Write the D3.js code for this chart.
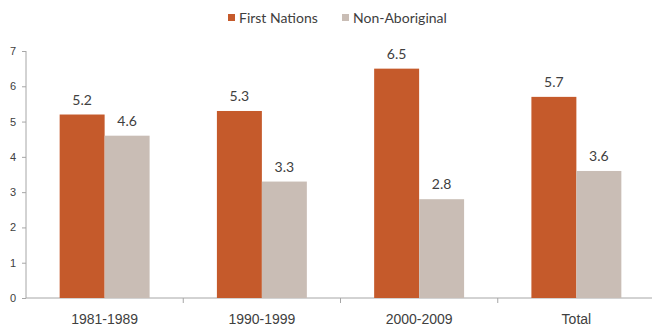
<!DOCTYPE html>
<html>
<head>
<meta charset="utf-8">
<script src="https://cdn.jsdelivr.net/npm/d3@7"></script>
<style>
  body{margin:0;background:#fff;}
  svg{display:block;font-family:Lato,"Open Sans",sans-serif;}
</style>
</head>
<body>
<svg id="chart" width="652" height="327"></svg>
<script>
const categories = ["1981-1989","1990-1999","2000-2009","Total"];
const firstNations = [5.2, 5.3, 6.5, 5.7];
const nonAboriginal = [4.6, 3.3, 2.8, 3.6];
const seriesNames = ["First Nations","Non-Aboriginal"];
const yTicks = [0,1,2,3,4,5,6,7];

const colors = ["#c55a2b","#c9bdb5"];
const svg = d3.select("#chart");
const W = 652, H = 327;
const m = {left:26, right:-3, top:51, bottom:29};

const x = d3.scaleBand().domain(categories).range([m.left, W-m.right]).paddingInner(0.428).paddingOuter(0.214);
const xs = d3.scaleBand().domain(seriesNames).range([0, x.bandwidth()]);
const y = d3.scaleLinear().domain([0,7]).range([H-m.bottom, m.top]);

// y axis
const ya = svg.append("g").attr("transform",`translate(${m.left},0)`)
  .call(d3.axisLeft(y).tickValues(yTicks).tickSize(4).tickPadding(6).tickFormat(d3.format("d")));
ya.selectAll("line,path").attr("stroke","#a6a6a6");
ya.select("path").attr("d",`M0,${y(7)}V${y(0)}`);
ya.selectAll("text").attr("fill","#404040").style("font-size","11px");

// x axis
const xa = svg.append("g").attr("transform",`translate(0,${y(0)})`)
  .call(d3.axisBottom(x).tickSize(0).tickPadding(16));
xa.select("path").attr("stroke","#a6a6a6").attr("d",`M${m.left},0H${W}`);
xa.selectAll("text").attr("fill","#404040").style("font-size","14px");
// boundary ticks between categories
const step = x.step();
svg.append("g").selectAll("line").data(categories.slice(1)).join("line")
  .attr("x1",d=>x(d)-step*0.214).attr("x2",d=>x(d)-step*0.214)
  .attr("y1",y(0)).attr("y2",y(0)+5).attr("stroke","#a6a6a6");

// bars
const rows = categories.map((c,i)=>({cat:c, vals:[firstNations[i], nonAboriginal[i]]}));
const grp = svg.append("g").selectAll("g").data(rows).join("g")
  .attr("transform",d=>`translate(${x(d.cat)},0)`);
grp.selectAll("rect").data(d=>d.vals.map((v,k)=>({k,v}))).join("rect")
  .attr("x",d=>xs(seriesNames[d.k])).attr("width",xs.bandwidth())
  .attr("y",d=>y(d.v)).attr("height",d=>y(0)-y(d.v))
  .attr("fill",d=>colors[d.k]);
grp.selectAll("text").data(d=>d.vals.map((v,k)=>({k,v}))).join("text")
  .attr("x",d=>xs(seriesNames[d.k])+xs.bandwidth()/2).attr("y",d=>y(d.v)-10)
  .attr("text-anchor","middle").attr("fill","#404040").style("font-size","14px")
  .text(d=>d3.format(".1f")(d.v));

// legend
const leg = svg.append("g");
const legX = [228, 342];
seriesNames.forEach((s,i)=>{
  leg.append("rect").attr("x",legX[i]).attr("y",14).attr("width",7).attr("height",7).attr("fill",colors[i]);
  leg.append("text").attr("x",legX[i]+11).attr("y",23).attr("fill","#404040").style("font-size","14px").text(s);
});
</script>
</body>
</html>
